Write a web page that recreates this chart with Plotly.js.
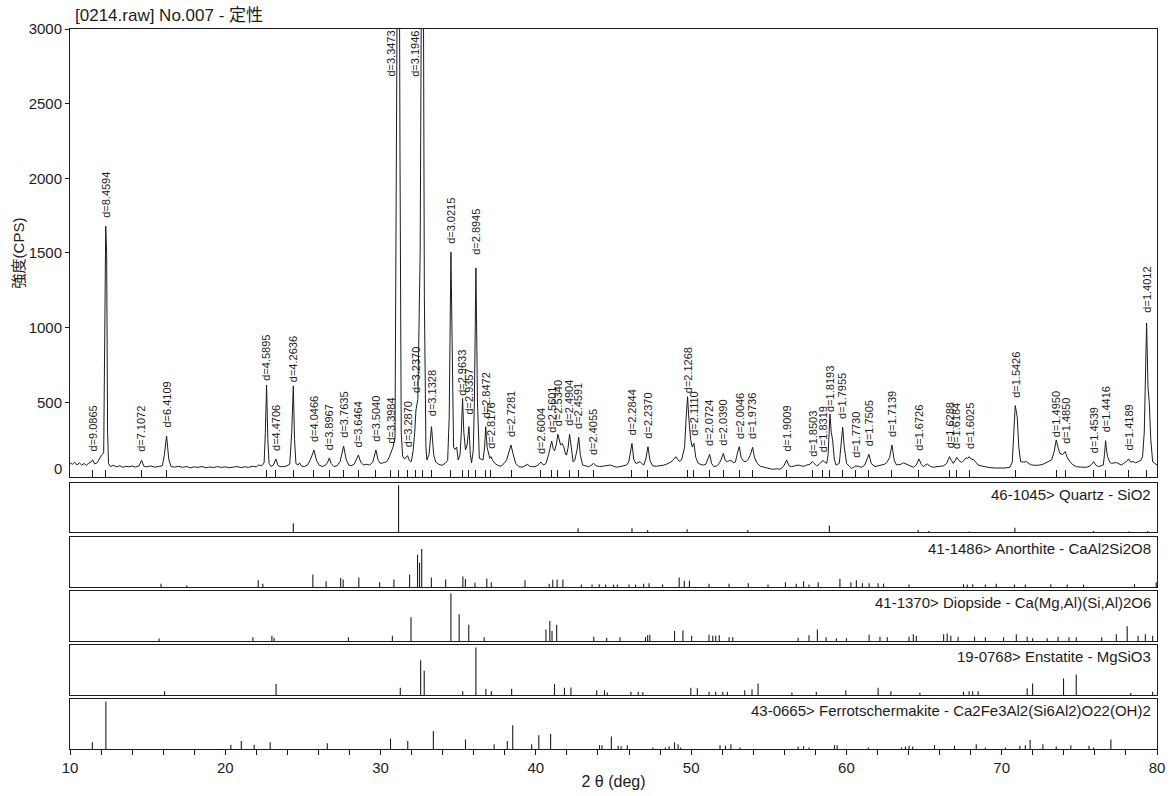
<!DOCTYPE html>
<html><head><meta charset="utf-8">
<script src="https://cdn.plot.ly/plotly-3.0.1.min.js"></script>
<style>html,body{margin:0;padding:0;background:#fff}</style>
</head><body><div id="chart" style="width:1170px;height:796px"></div>
<script>
// ---- measured pattern (2theta in deg, intensity in CPS) ----
const twoTheta = [10.00,10.15,10.30,10.45,10.60,10.75,10.90,11.05,11.20,11.35,11.46,11.58,11.75,11.90,12.05,12.17,12.22,12.30,12.36,12.42,12.48,
12.60,12.80,13.00,13.20,13.40,13.60,13.80,14.00,14.20,14.45,14.61,14.75,14.95,15.20,15.45,15.70,15.95,16.08,16.22,16.36,16.50,
16.75,17.00,17.25,17.50,17.75,18.00,18.25,18.50,18.75,19.00,19.25,19.50,19.75,20.00,20.25,20.50,20.75,21.00,21.25,21.50,21.75,
22.00,22.15,22.35,22.50,22.58,22.66,22.74,22.82,22.95,23.10,23.26,23.40,23.60,23.90,24.15,24.28,24.38,24.46,24.55,24.68,24.78,
24.92,25.10,25.30,25.50,25.71,25.88,26.05,26.25,26.45,26.60,26.70,26.82,27.00,27.20,27.40,27.62,27.78,27.95,28.10,28.30,28.45,
28.57,28.72,28.90,29.10,29.30,29.50,29.70,29.85,30.00,30.20,30.40,30.55,30.67,30.80,30.93,31.05,31.16,31.25,31.33,31.42,31.55,
31.74,31.86,31.98,32.10,32.20,32.28,32.40,32.55,32.66,32.72,32.82,32.92,32.98,33.12,33.28,33.42,33.55,33.75,33.95,34.15,34.32,
34.42,34.53,34.62,34.70,34.80,34.90,35.00,35.12,35.20,35.28,35.36,35.47,35.58,35.69,35.78,35.86,35.97,36.04,36.14,36.24,36.36,
36.50,36.60,36.70,36.77,36.86,36.94,37.03,37.11,37.22,37.37,37.55,37.75,37.95,38.12,38.28,38.40,38.52,38.70,38.90,39.10,39.30,
39.45,39.60,39.80,40.00,40.15,40.33,40.48,40.65,40.82,41.02,41.12,41.21,41.32,41.42,41.52,41.59,41.70,41.81,41.92,41.98,42.08,
42.17,42.28,42.40,42.50,42.65,42.76,42.86,43.01,43.20,43.40,43.58,43.72,43.88,44.10,44.30,44.55,44.80,45.00,45.20,45.41,45.60,
45.84,45.98,46.08,46.19,46.30,46.44,46.58,46.70,46.82,46.95,47.08,47.22,47.35,47.52,47.75,47.99,48.20,48.40,48.53,48.70,48.85,
49.02,49.15,49.28,49.40,49.49,49.58,49.68,49.77,49.86,49.97,50.08,50.18,50.30,50.46,50.62,50.78,50.95,51.08,51.19,51.32,51.47,
51.65,51.81,51.95,52.07,52.20,52.33,52.48,52.61,52.72,52.85,52.98,53.10,53.22,53.40,53.55,53.68,53.82,53.96,54.08,54.26,54.45,
54.65,54.90,55.10,55.29,55.50,55.70,55.83,56.00,56.15,56.30,56.47,56.70,56.90,57.10,57.30,57.44,57.65,57.80,57.92,58.08,58.25,
58.36,58.47,58.60,58.73,58.82,58.88,58.94,59.02,59.11,59.22,59.33,59.54,59.65,59.76,59.86,60.01,60.18,60.33,60.47,60.61,60.78,
60.98,61.18,61.32,61.45,61.60,61.84,62.05,62.27,62.45,62.59,62.78,62.93,63.08,63.23,63.50,63.68,63.83,64.05,64.31,64.50,64.67,
64.82,64.95,65.08,65.21,65.40,65.59,65.90,66.24,66.45,66.64,66.76,66.88,67.00,67.10,67.25,67.42,67.55,67.70,67.80,67.91,68.03,
68.17,68.32,68.49,68.75,69.03,69.30,69.60,69.89,70.20,70.53,70.68,70.78,70.87,70.94,71.00,71.10,71.22,71.40,71.60,71.75,71.93,
72.20,72.46,72.70,72.89,73.05,73.21,73.38,73.51,73.62,73.75,73.92,74.09,74.22,74.39,74.60,74.82,75.10,75.47,75.70,75.92,76.05,
76.22,76.40,76.54,76.62,76.69,76.75,76.82,76.95,77.08,77.25,77.40,77.55,77.72,77.90,78.05,78.17,78.30,78.47,78.62,78.79,78.95,
79.07,79.18,79.33,79.42,79.50,79.60,79.72,79.85,80.00];
const cps = [95,85,100,80,95,80,90,78,92,100,115,88,95,125,150,160,900,1680,1500,300,90,
70,78,68,75,65,72,68,74,66,75,112,72,68,74,66,70,75,150,275,120,70,
66,72,64,70,62,68,64,70,62,67,63,70,64,68,62,66,70,63,68,64,72,
68,80,75,95,300,615,250,90,70,80,120,75,68,72,85,300,610,250,90,80,95,
72,70,80,120,180,110,78,70,78,100,127,90,70,75,105,207,120,80,75,85,115,
147,100,80,85,80,100,181,110,90,96,103,130,170,200,260,2500,5200,2200,300,140,120,
143,110,103,180,300,449,520,1500,4000,4600,1200,200,114,150,337,150,100,85,78,91,110,
400,1507,700,200,185,200,114,150,300,527,300,181,220,337,150,95,180,500,1400,500,125,
118,114,200,337,200,158,125,136,110,90,78,72,90,115,170,214,160,91,70,65,75,
85,72,68,72,80,100,80,90,150,241,190,176,220,286,230,214,225,198,150,147,200,
286,200,100,110,180,266,150,80,74,69,80,91,76,69,72,76,80,72,66,69,75,
80,100,170,225,120,91,95,103,90,80,120,203,110,74,72,74,78,85,91,100,115,
136,115,103,120,158,200,400,538,380,248,200,225,130,91,84,80,85,120,152,90,69,
75,91,120,158,110,103,110,109,95,100,160,203,130,103,105,118,150,199,130,91,72,
65,60,55,51,55,52,58,80,114,75,69,75,80,74,72,80,85,103,90,74,85,
100,110,100,91,150,300,422,300,248,120,80,91,200,333,200,91,72,58,65,74,70,
65,80,120,152,90,69,75,80,85,96,130,214,110,80,85,95,87,75,65,80,121,
85,69,80,87,72,65,70,74,90,136,110,91,110,132,110,96,110,129,125,136,120,
118,100,80,72,65,62,60,58,60,65,100,300,478,440,400,200,103,100,103,90,80,
78,80,87,96,105,114,170,248,200,158,150,170,130,103,80,69,66,65,75,103,80,
69,75,80,150,243,180,136,100,91,95,96,88,80,95,105,121,100,103,95,103,110,
136,300,1031,600,504,250,103,90,80];

// ---- identified peaks (d-spacing labels) ----
const peakD = ["9.0865","8.4594","7.1072","6.4109","4.5895","4.4706","4.2636","4.0466","3.8967","3.7635","3.6464","3.5040","3.3984",
"3.3473","3.2870","3.2370","3.1946","3.1328","3.0215","2.9633","2.9357","2.8945","2.8472","2.8176","2.7281","2.6004","2.5601",
"2.5340","2.4904","2.4591","2.4055","2.2844","2.2370","2.1268","2.1110","2.0724","2.0390","2.0046","1.9736","1.9009","1.8503",
"1.8319","1.8193","1.7955","1.7730","1.7505","1.7139","1.6726","1.6288","1.6184","1.6025","1.5426","1.4950","1.4850","1.4539",
"1.4416","1.4189","1.4012"];
const peakPos = [11.46,12.30,14.61,16.22,22.66,23.26,24.38,25.71,26.70,27.62,28.57,29.70,30.67,
31.16,31.74,32.28,32.72,33.28,34.53,35.28,35.69,36.14,36.77,37.11,38.40,40.33,41.02,
41.42,42.17,42.76,43.72,46.19,47.22,49.77,50.18,51.19,52.07,53.10,53.96,56.15,57.80,
58.47,58.94,59.76,60.61,61.45,62.93,64.67,66.64,67.10,67.91,70.87,73.51,74.09,75.92,
76.69,78.17,79.33];
const peakTop = [115,1680,112,275,615,120,610,180,127,207,147,181,170,
5200,143,449,4600,337,1507,527,337,1400,337,136,214,100,241,
286,286,266,91,225,203,538,225,152,158,203,199,114,103,
110,422,333,74,152,214,121,136,132,136,478,248,170,103,
243,121,1031];

// ---- reference patterns (2theta, relative intensity) ----
const phaseNames = ["46-1045> Quartz - SiO2","41-1486> Anorthite - CaAl2Si2O8",
"41-1370> Diopside - Ca(Mg,Al)(Si,Al)2O6","19-0768> Enstatite - MgSiO3",
"43-0665> Ferrotschermakite - Ca2Fe3Al2(Si6Al2)O22(OH)2"];
const quartzPos = [24.38,31.16,42.72,46.19,47.20,49.74,53.65,58.90,64.62,65.30,67.90,70.85,75.90,78.20,79.40];
const quartzRel = [0.19,1.0,0.08,0.08,0.04,0.06,0.04,0.14,0.04,0.02,0.01,0.09,0.02,0.01,0.02];
const anorthitePos = [15.86,17.52,22.12,22.42,25.64,26.49,27.43,27.59,28.60,29.94,30.86,31.87,32.38,32.51,32.65,33.27,34.19,35.30,35.46,36.08,
36.84,37.13,39.30,40.86,41.09,41.37,41.74,42.93,43.62,44.08,44.49,45.00,45.25,46.00,46.42,46.94,47.29,48.16,49.23,49.56,49.89,
51.15,52.44,53.68,54.95,56.07,56.77,57.24,57.59,58.18,59.58,60.29,60.64,61.03,61.46,62.04,62.39,64.03,67.54,67.78,68.13,68.95,
69.65,70.82,71.52,73.16,74.22,75.27,78.55,79.95];
const anorthiteRel = [0.07,0.03,0.14,0.07,0.26,0.12,0.19,0.16,0.20,0.10,0.16,0.26,0.68,0.51,0.80,0.20,0.16,0.22,0.17,0.09,
0.18,0.10,0.14,0.07,0.15,0.16,0.16,0.05,0.05,0.06,0.05,0.05,0.05,0.05,0.05,0.07,0.08,0.05,0.20,0.13,0.13,
0.07,0.07,0.08,0.05,0.10,0.07,0.12,0.05,0.10,0.17,0.10,0.14,0.08,0.08,0.08,0.07,0.05,0.06,0.05,0.06,0.05,
0.07,0.05,0.05,0.06,0.05,0.05,0.06,0.10];
const diopsidePos = [15.74,21.78,23.00,23.14,27.93,30.76,31.96,34.53,35.06,35.68,36.67,40.65,40.90,41.04,41.34,43.73,44.56,
45.42,47.06,47.20,47.34,48.93,49.47,50.03,51.15,51.39,51.58,51.81,52.44,52.68,56.89,57.59,58.13,58.69,59.35,60.00,61.46,
62.16,62.63,64.03,64.31,64.50,66.26,66.49,66.72,67.19,68.25,68.95,70.12,70.94,71.64,71.99,72.93,73.63,74.33,74.80,76.44,
77.38,78.08,78.78,79.25,79.72];
const diopsideRel = [0.05,0.08,0.11,0.07,0.08,0.11,0.50,1.0,0.56,0.34,0.08,0.24,0.42,0.21,0.34,0.09,0.07,
0.08,0.08,0.12,0.13,0.21,0.22,0.11,0.13,0.11,0.11,0.12,0.08,0.08,0.07,0.12,0.24,0.08,0.06,0.06,0.13,
0.09,0.08,0.09,0.14,0.11,0.14,0.16,0.11,0.09,0.09,0.08,0.08,0.14,0.09,0.06,0.06,0.09,0.08,0.08,0.08,
0.14,0.31,0.11,0.14,0.11];
const enstatitePos = [16.09,23.27,31.27,32.58,32.81,35.29,36.14,36.78,37.13,38.44,41.20,41.84,42.26,43.92,44.42,
44.60,46.12,46.59,46.89,49.98,50.40,51.15,51.58,52.04,52.33,53.45,53.92,54.31,56.49,58.06,59.96,62.04,62.86,64.73,
67.54,67.90,68.13,68.48,71.64,71.99,73.98,74.80,78.31,79.72];
const enstatiteRel = [0.08,0.23,0.15,0.73,0.51,0.08,1.0,0.13,0.08,0.13,0.23,0.15,0.16,0.10,0.10,
0.05,0.07,0.07,0.06,0.15,0.14,0.07,0.07,0.07,0.07,0.10,0.12,0.24,0.05,0.07,0.10,0.15,0.08,0.05,
0.07,0.08,0.08,0.08,0.14,0.24,0.35,0.43,0.04,0.07];
const ferroPos = [11.44,12.31,20.36,21.03,21.86,22.89,26.57,30.64,31.75,33.40,35.47,37.31,38.16,38.51,39.73,40.19,40.95,
44.10,44.26,44.86,45.30,45.49,45.89,47.53,48.34,48.58,48.93,49.16,49.33,51.86,52.21,52.56,53.14,56.89,57.24,57.59,59.23,
59.40,61.41,63.56,63.80,64.03,64.27,65.67,66.96,68.36,68.95,70.24,71.17,71.52,71.83,72.65,73.51,74.45,75.62,75.92,77.03];
const ferroRel = [0.14,1.0,0.09,0.17,0.09,0.14,0.12,0.22,0.17,0.38,0.20,0.10,0.17,0.50,0.10,0.29,0.32,
0.08,0.08,0.26,0.07,0.06,0.08,0.03,0.03,0.06,0.14,0.10,0.03,0.08,0.07,0.10,0.03,0.05,0.06,0.03,0.08,
0.08,0.03,0.03,0.05,0.07,0.05,0.08,0.07,0.10,0.03,0.03,0.07,0.08,0.19,0.10,0.05,0.08,0.07,0.03,0.20];

// ---- styling / layout (not data) ----
const FONT = "Liberation Sans, Arial, Noto Sans CJK JP, sans-serif";
const INK = "#1c1c1c";
const yTop = 3000;
const labelLift = {"4.5895":2,"4.2636":2,"3.2370":15,"2.9633":0,"2.9357":10,"2.8945":11,"2.1268":1,"1.8193":0,"1.4950":1,"1.4012":8,"1.8503":3,"3.1328":8};
const phaseData = [[quartzPos,quartzRel],[anorthitePos,anorthiteRel],[diopsidePos,diopsideRel],[enstatitePos,enstatiteRel],[ferroPos,ferroRel]];
const panelDomains = [[0.3014,0.3694],[0.2250,0.2944],[0.1500,0.2194],[0.0750,0.1444],[0.0000,0.0694]];

const traces = [{
  x: twoTheta, y: cps, type: "scatter", mode: "lines",
  line: {color: INK, width: 1}, xaxis: "x", yaxis: "y", hoverinfo: "skip"
}];
phaseData.forEach(([pos, rel], i) => {
  const xs = [], ys = [];
  pos.forEach((p, k) => { xs.push(p, p, null); ys.push(0, rel[k], null); });
  traces.push({x: xs, y: ys, type: "scatter", mode: "lines",
    line: {color: INK, width: 1.1}, xaxis: "x" + (i + 2), yaxis: "y" + (i + 2), hoverinfo: "skip"});
});

const annotations = [];
peakD.forEach((d, i) => {
  const clipped = peakTop[i] > yTop;
  if (clipped) {
    annotations.push({xref: "x", yref: "y", x: peakPos[i], y: yTop, text: "d=" + d,
      textangle: -90, showarrow: false, xanchor: "right", yanchor: "top", xshift: 0, yshift: 0,
      font: {family: FONT, size: 11, color: INK}});
  } else {
    const lift = (d in labelLift) ? labelLift[d] : 6;
    annotations.push({xref: "x", yref: "y", x: peakPos[i], y: peakTop[i], text: "d=" + d,
      textangle: -90, showarrow: false, xanchor: "center", yanchor: "bottom", yshift: lift,
      font: {family: FONT, size: 11, color: INK}});
  }
});
phaseNames.forEach((name, i) => {
  annotations.push({xref: "paper", yref: "paper", x: 1, y: panelDomains[i][1], text: name,
    showarrow: false, xanchor: "right", yanchor: "top", xshift: -4, yshift: -1,
    font: {family: FONT, size: 15, color: INK}});
});
annotations.push({xref: "paper", yref: "y", x: 0, y: 0, text: "0", showarrow: false,
  xanchor: "right", yanchor: "middle", xshift: -6, yshift: 8, font: {family: FONT, size: 15, color: INK}});

const layout = {
  width: 1170, height: 796,
  margin: {l: 70, r: 13, t: 29, b: 47},
  paper_bgcolor: "#fff", plot_bgcolor: "#fff",
  showlegend: false,
  font: {family: FONT, color: INK},
  title: {text: "[0214.raw] No.007 - 定性", x: 75/1170, xref: "container", xanchor: "left",
    y: 1 - 15/796, yref: "container", yanchor: "middle", font: {family: FONT, size: 17, color: INK}},
  xaxis: {domain: [0, 1], range: [10, 80], anchor: "y", showline: true, mirror: true, linecolor: INK, linewidth: 1,
    ticks: "inside", ticklen: 7, tickcolor: INK, tickwidth: 1, tickmode: "array", tickvals: peakPos,
    showticklabels: false, showgrid: false, zeroline: false, fixedrange: true},
  yaxis: {domain: [0.3778, 1], range: [0, yTop], anchor: "x", showline: true, mirror: true, linecolor: INK, linewidth: 1,
    ticks: "outside", ticklen: 4, tickcolor: INK, tickmode: "array", tickvals: [500, 1000, 1500, 2000, 2500, 3000],
    tickfont: {family: FONT, size: 15, color: INK}, showgrid: false, zeroline: false, fixedrange: true,
    title: {text: "強度(CPS)", font: {family: FONT, size: 15, color: INK}, standoff: 0}},
  annotations: annotations
};
panelDomains.forEach((dom, i) => {
  const n = i + 2;
  const isLast = (i === panelDomains.length - 1);
  layout["xaxis" + n] = {domain: [0, 1], range: [10, 80], anchor: "y" + n, showline: true, mirror: true,
    linecolor: INK, linewidth: 1, showgrid: false, zeroline: false, fixedrange: true,
    ticks: isLast ? "outside" : "", ticklen: 5, tickcolor: INK,
    tickmode: "array", tickvals: isLast ? [10, 20, 30, 40, 50, 60, 70, 80] : [],
    showticklabels: isLast, tickfont: {family: FONT, size: 15, color: INK},
    minor: isLast ? {dtick: 2, ticks: "outside", ticklen: 5, tickcolor: INK} : undefined,
    title: isLast ? {text: "2 θ (deg)", font: {family: FONT, size: 16, color: INK}, standoff: 0} : undefined};
  layout["yaxis" + n] = {domain: dom, range: [0, 1.05], anchor: "x" + n, showline: true, mirror: true,
    linecolor: INK, linewidth: 1, showgrid: false, zeroline: false, ticks: "", showticklabels: false, fixedrange: true};
});

Plotly.newPlot("chart", traces, layout, {staticPlot: true, displayModeBar: false});
</script>
</body></html>
